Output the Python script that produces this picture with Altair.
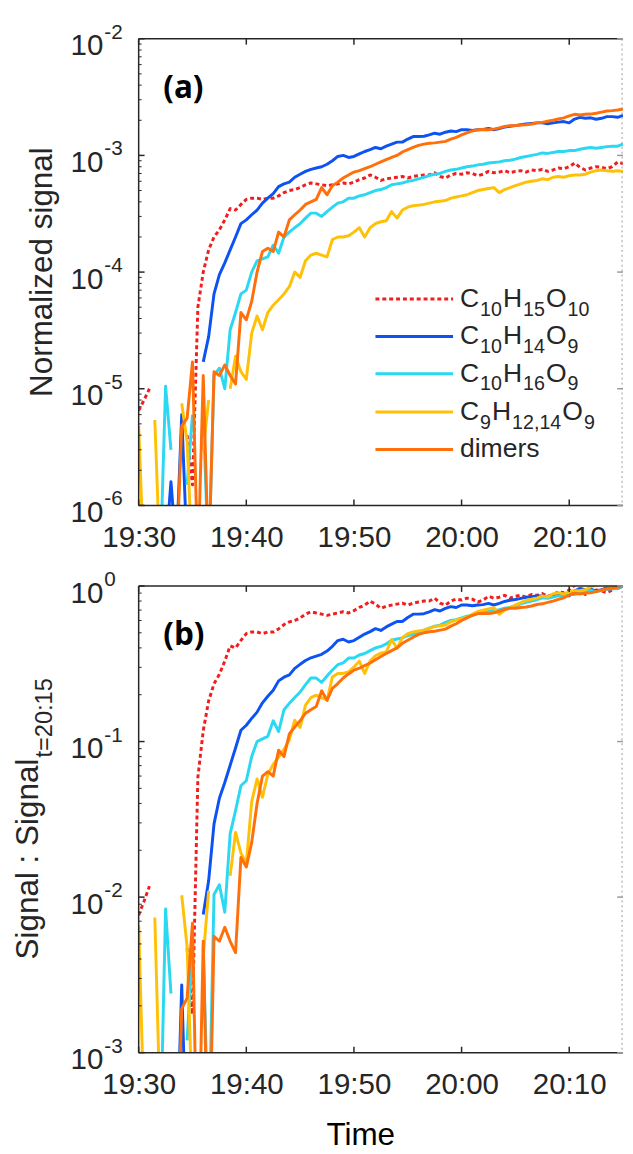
import altair as alt
import pandas as pd

# ---------------- data ----------------
# sample times: minutes after 19:30, every 30 s
minutes = [i * 0.5 for i in range(91)]

x_tick_values = [0, 10, 20, 30, 40]
x_tick_labels = ["19:30", "19:40", "19:50", "20:00", "20:10"]

series_names = ["C10H15O10", "C10H14O9", "C10H16O9", "C9H12,14O9", "dimers"]

red = [
    6.5e-6, 8.0e-6, 1.0e-5, None, None, None, None, None, None, 4.0e-6,
    1.5e-6, 5.0e-5, 1.0e-4, 1.55e-4, 2.0e-4, 2.3e-4, 2.8e-4, 3.5e-4, 3.4e-4, 3.8e-4,
    4.2e-4, 4.3e-4, 4.3e-4, 4.2e-4, 4.3e-4, 4.3e-4, 4.5e-4, 4.8e-4, 5.0e-4, 5.1e-4,
    5.3e-4, 5.6e-4, 5.8e-4, 5.7e-4, 5.6e-4, 5.5e-4, 5.6e-4, 5.7e-4, 5.8e-4, 5.7e-4,
    5.9e-4, 6.2e-4, 6.4e-4, 6.8e-4, 6.5e-4, 6.1e-4, 6.3e-4, 6.4e-4, 6.5e-4, 6.6e-4,
    6.4e-4, 6.6e-4, 6.7e-4, 6.8e-4, 6.8e-4, 7.1e-4, 6.6e-4, 6.4e-4, 6.8e-4, 7.0e-4,
    6.9e-4, 7.1e-4, 7.0e-4, 6.7e-4, 6.9e-4, 7.3e-4, 7.1e-4, 7.2e-4, 7.4e-4, 7.1e-4,
    7.3e-4, 7.4e-4, 7.2e-4, 7.5e-4, 7.4e-4, 7.6e-4, 7.3e-4, 7.5e-4, 7.8e-4, 7.7e-4,
    8.0e-4, 8.6e-4, 7.9e-4, 7.5e-4, 7.8e-4, 8.0e-4, 7.9e-4, 7.7e-4, 8.0e-4, 8.8e-4,
    8.5e-4,
]
blue = [
    None, None, None, None, None, 4e-7, 1.6e-6, 4e-7, 6e-6, 4e-7,
    None, None, 1.7e-5, 2.8e-5, 6.5e-5, 9.5e-5, 1.2e-4, 1.55e-4, 2.0e-4, 2.6e-4,
    2.8e-4, 3.1e-4, 3.4e-4, 3.9e-4, 4.3e-4, 4.7e-4, 5.4e-4, 5.7e-4, 5.9e-4, 6.5e-4,
    6.9e-4, 7.3e-4, 7.6e-4, 7.8e-4, 8.0e-4, 8.4e-4, 9.0e-4, 9.8e-4, 1.0e-3, 9.6e-4,
    9.8e-4, 1.03e-3, 1.08e-3, 1.12e-3, 1.17e-3, 1.14e-3, 1.2e-3, 1.25e-3, 1.3e-3, 1.3e-3,
    1.38e-3, 1.45e-3, 1.45e-3, 1.46e-3, 1.5e-3, 1.55e-3, 1.52e-3, 1.58e-3, 1.62e-3, 1.6e-3,
    1.66e-3, 1.66e-3, 1.64e-3, 1.66e-3, 1.67e-3, 1.7e-3, 1.66e-3, 1.7e-3, 1.75e-3, 1.78e-3,
    1.8e-3, 1.83e-3, 1.86e-3, 1.88e-3, 1.9e-3, 1.9e-3, 1.87e-3, 1.9e-3, 1.93e-3, 1.95e-3,
    1.9e-3, 2.05e-3, 2.12e-3, 2.08e-3, 2.1e-3, 2.04e-3, 2.08e-3, 2.15e-3, 2.15e-3, 2.12e-3,
    2.2e-3,
]
cyan = [
    None, None, None, None, 3e-7, 1.05e-5, 3e-6, None, None, 1.5e-6,
    6e-6, None, 6e-6, 3e-7, 1.3e-5, 1.5e-5, 1.0e-5, 3.2e-5, 4.5e-5, 6.5e-5,
    7.0e-5, 1.0e-4, 1.25e-4, 1.3e-4, 1.35e-4, 1.7e-4, 1.45e-4, 2.0e-4, 2.2e-4, 2.4e-4,
    2.6e-4, 2.9e-4, 3.2e-4, 3.2e-4, 3.0e-4, 3.3e-4, 3.6e-4, 3.9e-4, 4.0e-4, 4.3e-4,
    4.3e-4, 4.5e-4, 4.6e-4, 4.8e-4, 5.0e-4, 5.1e-4, 5.3e-4, 5.6e-4, 5.7e-4, 5.8e-4,
    6.0e-4, 6.1e-4, 6.3e-4, 6.5e-4, 6.7e-4, 6.9e-4, 7.0e-4, 7.3e-4, 7.5e-4, 7.6e-4,
    7.8e-4, 8.0e-4, 8.1e-4, 8.3e-4, 8.4e-4, 8.6e-4, 8.7e-4, 8.8e-4, 9.0e-4, 9.1e-4,
    9.3e-4, 9.6e-4, 9.8e-4, 1.0e-3, 1.02e-3, 1.05e-3, 1.04e-3, 1.06e-3, 1.08e-3, 1.08e-3,
    1.1e-3, 1.1e-3, 1.13e-3, 1.15e-3, 1.17e-3, 1.15e-3, 1.17e-3, 1.19e-3, 1.2e-3, 1.2e-3,
    1.25e-3,
]
yellow = [
    4.8e-6, 3e-7, None, 5.4e-6, 3e-7, None, None, None, 7.5e-6, 3.5e-6,
    3e-7, None, 3e-6, 8e-6, None, None, None, 1.0e-5, 1.9e-5, 1.4e-5,
    1.2e-5, 3.0e-5, 4.2e-5, 3.2e-5, 4.5e-5, 5.2e-5, 5.8e-5, 6.5e-5, 7.5e-5, 1.0e-4,
    9.0e-5, 1.25e-4, 1.4e-4, 1.45e-4, 1.4e-4, 1.35e-4, 1.9e-4, 2.0e-4, 2.0e-4, 2.05e-4,
    2.2e-4, 2.4e-4, 2.0e-4, 2.4e-4, 2.6e-4, 2.7e-4, 2.75e-4, 3.3e-4, 2.9e-4, 3.4e-4,
    3.6e-4, 3.7e-4, 3.75e-4, 3.8e-4, 3.9e-4, 4.0e-4, 4.05e-4, 4.1e-4, 4.3e-4, 4.4e-4,
    4.5e-4, 4.6e-4, 4.8e-4, 5.0e-4, 5.1e-4, 5.2e-4, 5.3e-4, 4.8e-4, 5.1e-4, 5.3e-4,
    5.5e-4, 5.7e-4, 5.9e-4, 6.0e-4, 6.1e-4, 6.3e-4, 6.2e-4, 6.5e-4, 6.6e-4, 6.5e-4,
    6.7e-4, 6.8e-4, 6.8e-4, 6.9e-4, 7.2e-4, 7.4e-4, 7.5e-4, 7.4e-4, 7.3e-4, 7.4e-4,
    7.3e-4,
]
orange = [
    None, None, None, None, None, None, None, 3e-7, 4.8e-6, 5.6e-6,
    1.7e-5, 3e-7, 1.3e-5, 3e-7, 1.4e-5, 1.3e-5, 1.6e-5, 1.3e-5, 1.1e-5, 4.5e-5,
    3.9e-5, 5.6e-5, 1.0e-4, 1.5e-4, 1.6e-4, 1.5e-4, 2.2e-4, 2.0e-4, 2.8e-4, 3.1e-4,
    3.4e-4, 3.8e-4, 4.0e-4, 4.2e-4, 5.3e-4, 4.6e-4, 5.5e-4, 5.9e-4, 6.4e-4, 6.8e-4,
    7.2e-4, 7.4e-4, 7.7e-4, 8.0e-4, 8.4e-4, 8.8e-4, 9.2e-4, 9.6e-4, 1.0e-3, 1.07e-3,
    1.12e-3, 1.17e-3, 1.22e-3, 1.25e-3, 1.27e-3, 1.28e-3, 1.3e-3, 1.32e-3, 1.38e-3, 1.43e-3,
    1.5e-3, 1.56e-3, 1.62e-3, 1.66e-3, 1.67e-3, 1.66e-3, 1.68e-3, 1.72e-3, 1.77e-3, 1.8e-3,
    1.8e-3, 1.82e-3, 1.83e-3, 1.86e-3, 1.9e-3, 1.92e-3, 1.96e-3, 2.0e-3, 2.05e-3, 2.1e-3,
    2.18e-3, 2.25e-3, 2.22e-3, 2.25e-3, 2.26e-3, 2.3e-3, 2.35e-3, 2.4e-3, 2.42e-3, 2.45e-3,
    2.5e-3,
]
series_values = [red, blue, cyan, yellow, orange]

# legend labels as (text, is_subscript) pieces
legend_labels = [
    [("C", 0), ("10", 1), ("H", 0), ("15", 1), ("O", 0), ("10", 1)],
    [("C", 0), ("10", 1), ("H", 0), ("14", 1), ("O", 0), ("9", 1)],
    [("C", 0), ("10", 1), ("H", 0), ("16", 1), ("O", 0), ("9", 1)],
    [("C", 0), ("9", 1), ("H", 0), ("12,14", 1), ("O", 0), ("9", 1)],
    [("dimers", 0)],
]

# ---------------- styles ----------------
colors = ["#f21d1d", "#0d52f2", "#2bd8f2", "#ffc107", "#ff6f0a"]
dashes = [[4, 3], None, None, None, None]
FONT = "Liberation Sans, Arial, Helvetica, sans-serif"
AX = "#262626"
W, H = 493, 475

# ---------------- table ----------------
rows = []
for name, vals in zip(series_names, series_values):
    last = vals[-1]
    seg = 0
    for t, v in zip(minutes, vals):
        if v is None:
            seg += 1
            continue
        rows.append(dict(t=t, series=name, value=v, ratio=v / last, seg=f"{name}-{seg}"))
df = pd.DataFrame(rows)
one = pd.DataFrame({"k": [0]})

label_expr = " : ".join(
    f"datum.value == {v} ? '{l}'" for v, l in zip(x_tick_values, x_tick_labels)
) + " : ''"
xscale = alt.Scale(domain=[0, 45], nice=False, zero=False)
xaxis = alt.Axis(
    values=x_tick_values, labelExpr=label_expr, domain=False, ticks=False, tickSize=0,
    grid=False, labelFontSize=30, labelFont=FONT, labelColor=AX, labelPadding=18,
    title=None, labelFlush=False, labelOverlap=False,
)

# Arial / Liberation Sans advance widths (em)
CW = {"C": 0.722, "H": 0.722, "O": 0.778, "S": 0.667, ",": 0.278, ":": 0.278,
      " ": 0.278, "i": 0.222, "l": 0.222, "t": 0.278, "=": 0.584, "r": 0.333,
      "m": 0.833, "s": 0.5}


def text_width(s, size):
    return sum(CW.get(ch, 0.556) for ch in s) * size


def panel(field, ydom, exps, tag):
    yscale = alt.Scale(type="log", domain=ydom, nice=False)
    lo, hi = exps[-1], exps[0]
    layers = []
    # data lines
    for name, color, dash in zip(series_names, colors, dashes):
        mk = dict(color=color, strokeWidth=3, clip=True, strokeJoin="round")
        if dash:
            mk["strokeDash"] = dash
        layers.append(
            alt.Chart(df[df.series == name]).mark_line(**mk).encode(
                x=alt.X("t:Q", scale=xscale, axis=xaxis),
                y=alt.Y(f"{field}:Q", scale=yscale, axis=None),
                detail="seg:N",
            )
        )
    # frame
    layers.append(alt.Chart(one).mark_rule(color=AX, strokeWidth=1.5).encode(
        x=alt.value(0), y=alt.value(0), y2=alt.value(H)))
    layers.append(alt.Chart(one).mark_rule(color=AX, strokeWidth=1.5).encode(
        x=alt.value(0), x2=alt.value(W), y=alt.value(0)))
    layers.append(alt.Chart(one).mark_rule(color=AX, strokeWidth=1.5).encode(
        x=alt.value(0), x2=alt.value(W), y=alt.value(H)))
    layers.append(alt.Chart(one).mark_rule(color="#9a9a9a", strokeWidth=1, strokeDash=[2, 3]).encode(
        x=alt.value(W - 1), y=alt.value(0), y2=alt.value(H)))
    # x ticks (inward), bottom and top
    xt = pd.DataFrame({"t": x_tick_values})
    layers.append(alt.Chart(xt).mark_rule(color=AX, strokeWidth=1.5).encode(
        x=alt.X("t:Q", scale=xscale, axis=xaxis), y=alt.value(H), y2=alt.value(H - 6)))
    layers.append(alt.Chart(xt).mark_rule(color=AX, strokeWidth=1.5).encode(
        x=alt.X("t:Q", scale=xscale, axis=xaxis), y=alt.value(0), y2=alt.value(6)))
    # y ticks
    major = pd.DataFrame({"v": [10.0 ** e for e in exps], "e": [str(e) for e in exps]})
    minor = pd.DataFrame({"v": [m * 10.0 ** k for k in range(lo, hi) for m in range(2, 10)]})
    layers.append(alt.Chart(major).mark_rule(color=AX, strokeWidth=1.5).encode(
        y=alt.Y("v:Q", scale=yscale, axis=None), x=alt.value(0), x2=alt.value(6)))
    layers.append(alt.Chart(minor).mark_rule(color=AX, strokeWidth=1).encode(
        y=alt.Y("v:Q", scale=yscale, axis=None), x=alt.value(0), x2=alt.value(3)))
    layers.append(alt.Chart(major).mark_rule(color="#9a9a9a", strokeWidth=1.5).encode(
        y=alt.Y("v:Q", scale=yscale, axis=None), x=alt.value(W - 6), x2=alt.value(W)))
    # y tick labels 10^e
    layers.append(alt.Chart(major).mark_text(
        align="right", baseline="middle", fontSize=30, font=FONT, color=AX, dy=8).encode(
        y=alt.Y("v:Q", scale=yscale, axis=None), x=alt.value(-36), text=alt.value("10")))
    layers.append(alt.Chart(major).mark_text(
        align="left", baseline="middle", fontSize=21, font=FONT, color=AX, dy=-6).encode(
        y=alt.Y("v:Q", scale=yscale, axis=None), x=alt.value(-35), text="e:N"))
    # panel tag
    layers.append(alt.Chart(one).mark_text(
        align="left", baseline="middle", fontSize=32, font="Open Sans", fontWeight="bold",
        color="#000000").encode(x=alt.value(25), y=alt.value(50), text=alt.value(tag)))
    return layers


# ---------- panel (a) ----------
la = panel("value", [1e-6, 1e-2], [-2, -3, -4, -5, -6], "(a)")
la.append(alt.Chart(one).mark_text(
    align="center", baseline="middle", angle=270, fontSize=32, font=FONT, color=AX).encode(
    x=alt.value(-98), y=alt.value(H / 2), text=alt.value("Normalized signal")))

legend_y = [265, 303, 341, 380, 418]
for i, (pieces, ly) in enumerate(zip(legend_labels, legend_y)):
    mk = dict(color=colors[i], strokeWidth=3)
    if dashes[i]:
        mk["strokeDash"] = dashes[i]
    la.append(alt.Chart(one).mark_rule(**mk).encode(
        x=alt.value(241), x2=alt.value(320), y=alt.value(ly)))
    cx = 327
    for txt, sub in pieces:
        size = 20 if sub else 27
        la.append(alt.Chart(one).mark_text(
            align="left", baseline="middle", fontSize=size, font=FONT, color=AX).encode(
            x=alt.value(cx), y=alt.value(ly + (11 if sub else 0)), text=alt.value(txt)))
        cx += text_width(txt, size) + 1

panel_a = alt.layer(*la).properties(width=W, height=H)

# ---------- panel (b) ----------
lb = panel("ratio", [1e-3, 1.0], [0, -1, -2, -3], "(b)")
main_txt, sub_txt = "Signal : Signal", "t=20:15"
main_size, sub_size = 32, 24
main_len = text_width(main_txt, main_size)
sub_len = text_width(sub_txt, sub_size)
y_start = H / 2 + (main_len + sub_len) / 2
lb.append(alt.Chart(one).mark_text(
    align="left", baseline="middle", angle=270, fontSize=main_size, font=FONT, color=AX).encode(
    x=alt.value(-112), y=alt.value(y_start), text=alt.value(main_txt)))
lb.append(alt.Chart(one).mark_text(
    align="left", baseline="middle", angle=270, fontSize=sub_size, font=FONT, color=AX).encode(
    x=alt.value(-95), y=alt.value(y_start - main_len - 1), text=alt.value(sub_txt)))
lb.append(alt.Chart(one).mark_text(
    align="center", baseline="middle", fontSize=32, font=FONT, color="#000000").encode(
    x=alt.value(226), y=alt.value(H + 84), text=alt.value("Time")))

panel_b = alt.layer(*lb).properties(width=W, height=H)

chart = alt.vconcat(panel_a, panel_b, spacing=82, bounds="flush").properties(
    padding={"left": 4, "top": 3, "right": 0, "bottom": 0}
).configure_view(stroke="transparent")

chart.save("out.html", embed_options={"renderer": "svg", "actions": False})
